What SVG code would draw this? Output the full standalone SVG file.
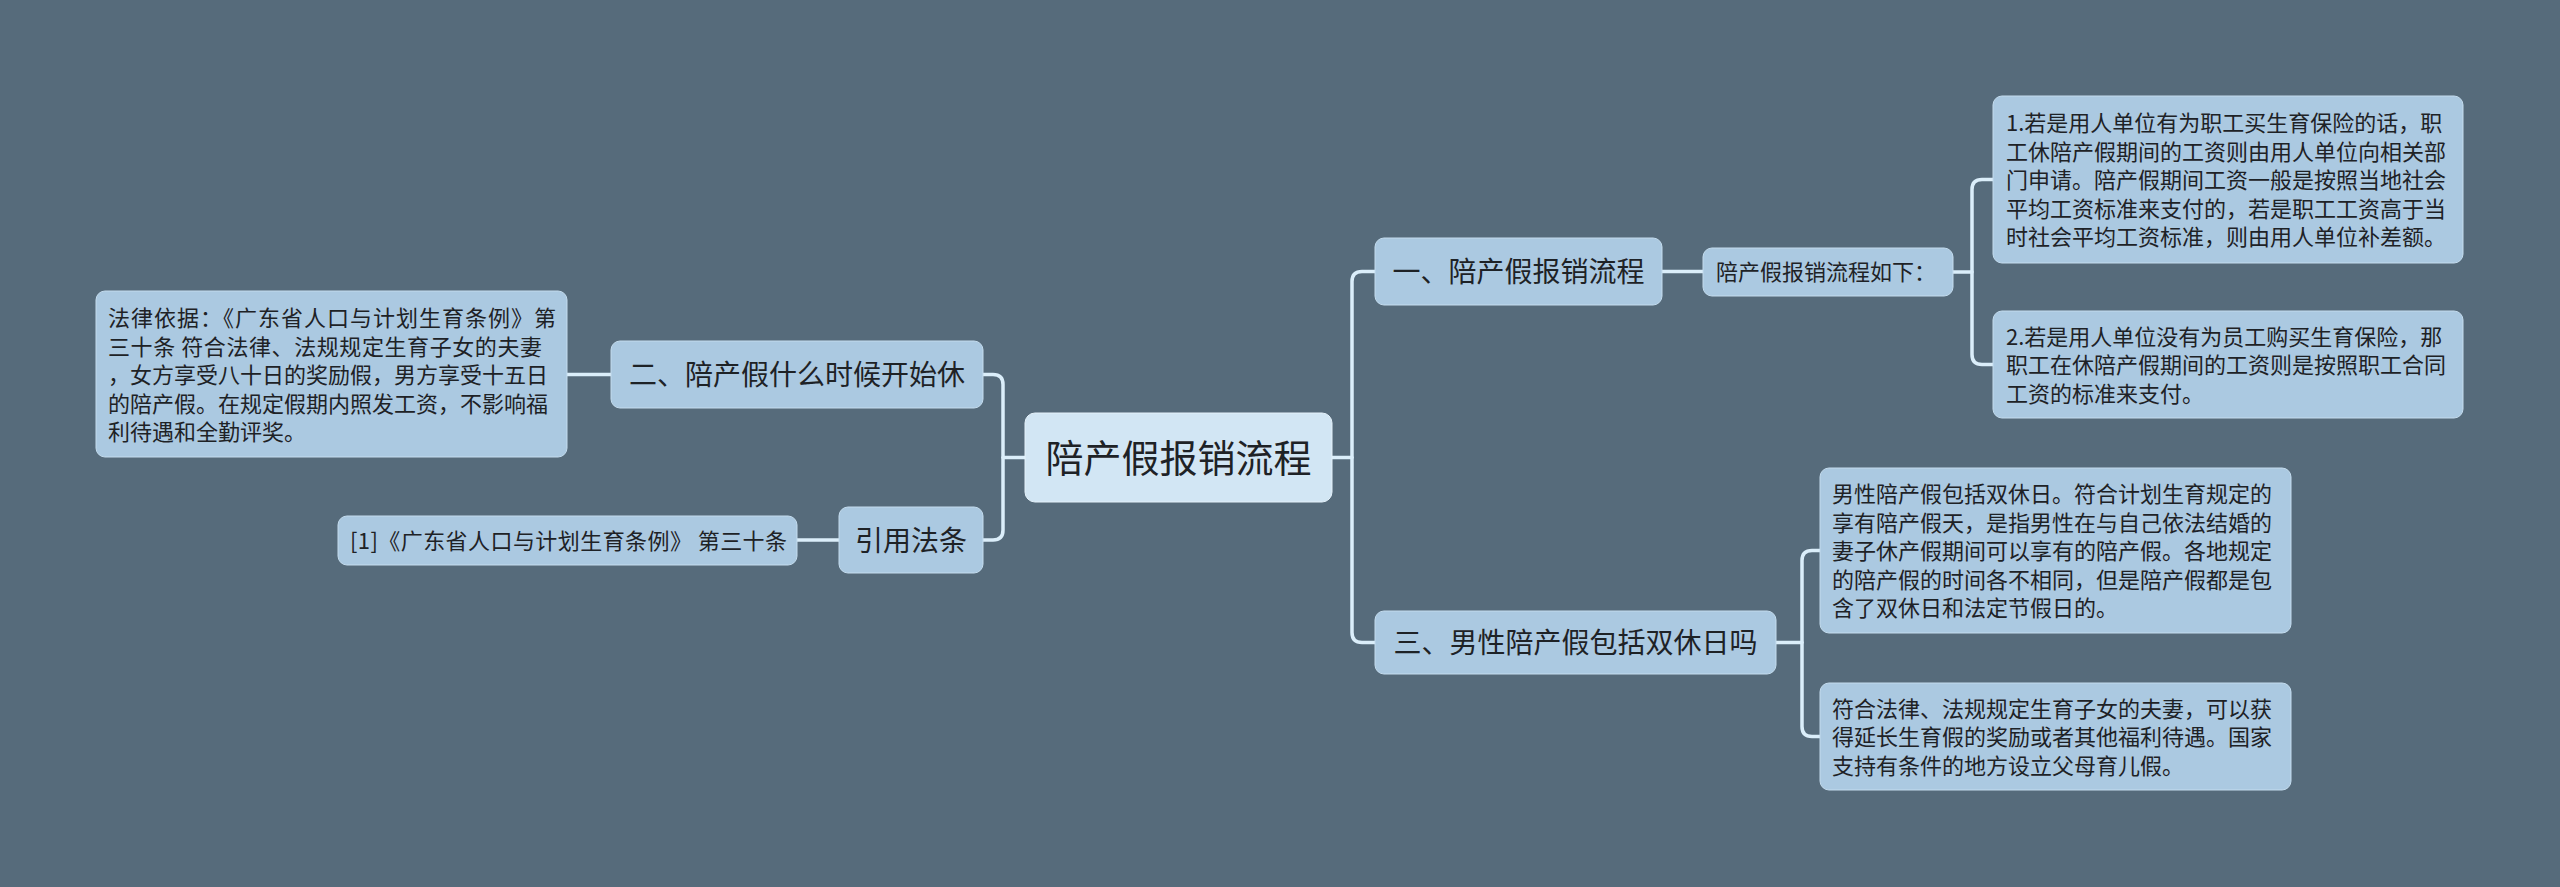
<svg xmlns="http://www.w3.org/2000/svg" width="2560" height="887" viewBox="0 0 2560 887">
<style>
.bg{fill:#566b7b}
.box{fill:#abc9e1;stroke:#c4dcee;stroke-width:1}
.root{fill:#d2e6f4;stroke:#e4f1fa;stroke-width:1}
.ln{fill:none;stroke:#dbeefa;stroke-width:3.5;stroke-linecap:round;stroke-linejoin:round}
text{font-family:"Noto Sans CJK SC","Noto Sans",sans-serif;fill:#1e2226}
.t22{font-size:22px}
.t28{font-size:28px}
.t38{font-size:38px}
.mid{text-anchor:middle}
</style>
<rect class="bg" x="0" y="0" width="2560" height="887"/>
<g id="connectors">
<path class="ln" d="M1332,457.5 H1352"/>
<path class="ln" d="M1375,271.5 H1362 Q1352,271.5 1352,281.5 V632.5 Q1352,642.5 1362,642.5 H1375"/>
<path class="ln" d="M1025,457.5 H1003"/>
<path class="ln" d="M983,374.5 H993 Q1003,374.5 1003,384.5 V530 Q1003,540 993,540 H983"/>
<path class="ln" d="M611,374.5 H567"/>
<path class="ln" d="M839,540 H797"/>
<path class="ln" d="M1662,271.5 H1703"/>
<path class="ln" d="M1953,272 H1972"/>
<path class="ln" d="M1993,179.5 H1982 Q1972,179.5 1972,189.5 V354.5 Q1972,364.5 1982,364.5 H1993"/>
<path class="ln" d="M1776,642.5 H1802"/>
<path class="ln" d="M1820,550.5 H1812 Q1802,550.5 1802,560.5 V726.5 Q1802,736.5 1812,736.5 H1820"/>
</g>
<g id="root">
<rect class="root" x="1025" y="413" width="307" height="89" rx="10"/>
<text class="t38 mid" x="1178.5" y="472">陪产假报销流程</text>
</g>
<g id="n1">
<rect class="box" x="1375" y="238" width="287" height="67" rx="9"/>
<text class="t28 mid" x="1518.5" y="282">一、陪产假报销流程</text>
</g>
<g id="n1a">
<rect class="box" x="1703" y="248" width="250" height="48" rx="9"/>
<text class="t22" x="1716" y="280.4">陪产假报销流程如下：</text>
</g>
<g id="n1a1">
<rect class="box" x="1993" y="96" width="470" height="167" rx="9"/>
<text class="t22" x="2006" y="131">1.若是用人单位有为职工买生育保险的话，职</text>
<text class="t22" x="2006" y="159.5">工休陪产假期间的工资则由用人单位向相关部</text>
<text class="t22" x="2006" y="188">门申请。陪产假期间工资一般是按照当地社会</text>
<text class="t22" x="2006" y="216.5">平均工资标准来支付的，若是职工工资高于当</text>
<text class="t22" x="2006" y="245">时社会平均工资标准，则由用人单位补差额。</text>
</g>
<g id="n1a2">
<rect class="box" x="1993" y="311" width="470" height="107" rx="9"/>
<text class="t22" x="2006" y="344.5">2.若是用人单位没有为员工购买生育保险，那</text>
<text class="t22" x="2006" y="373">职工在休陪产假期间的工资则是按照职工合同</text>
<text class="t22" x="2006" y="401.5">工资的标准来支付。</text>
</g>
<g id="n3">
<rect class="box" x="1375" y="611" width="401" height="63" rx="9"/>
<text class="t28 mid" x="1575.5" y="653">三、男性陪产假包括双休日吗</text>
</g>
<g id="n3a">
<rect class="box" x="1820" y="468" width="471" height="165" rx="9"/>
<text class="t22" x="1832" y="502">男性陪产假包括双休日。符合计划生育规定的</text>
<text class="t22" x="1832" y="530.5">享有陪产假天，是指男性在与自己依法结婚的</text>
<text class="t22" x="1832" y="559">妻子休产假期间可以享有的陪产假。各地规定</text>
<text class="t22" x="1832" y="587.5">的陪产假的时间各不相同，但是陪产假都是包</text>
<text class="t22" x="1832" y="616">含了双休日和法定节假日的。</text>
</g>
<g id="n3b">
<rect class="box" x="1820" y="683" width="471" height="107" rx="9"/>
<text class="t22" x="1832" y="716.5">符合法律、法规规定生育子女的夫妻，可以获</text>
<text class="t22" x="1832" y="745">得延长生育假的奖励或者其他福利待遇。国家</text>
<text class="t22" x="1832" y="773.5">支持有条件的地方设立父母育儿假。</text>
</g>
<g id="n2">
<rect class="box" x="611" y="341" width="372" height="67" rx="9"/>
<text class="t28 mid" x="797" y="385">二、陪产假什么时候开始休</text>
</g>
<g id="n2a">
<rect class="box" x="96" y="291" width="471" height="166" rx="9"/>
<text class="t22" x="108" y="326" textLength="448" lengthAdjust="spacing">法律依据：《广东省人口与计划生育条例》第</text>
<text class="t22" x="108" y="354.5" textLength="434" lengthAdjust="spacing">三十条 符合法律、法规规定生育子女的夫妻</text>
<text class="t22" x="108" y="383">，女方享受八十日的奖励假，男方享受十五日</text>
<text class="t22" x="108" y="411.5">的陪产假。在规定假期内照发工资，不影响福</text>
<text class="t22" x="108" y="440">利待遇和全勤评奖。</text>
</g>
<g id="n4">
<rect class="box" x="839" y="507" width="144" height="66" rx="9"/>
<text class="t28 mid" x="911" y="550.5">引用法条</text>
</g>
<g id="n4a">
<rect class="box" x="338" y="516" width="459" height="49" rx="9"/>
<text class="t22" x="350" y="548.9" textLength="437" lengthAdjust="spacing">[1]《广东省人口与计划生育条例》 第三十条</text>
</g>
</svg>
